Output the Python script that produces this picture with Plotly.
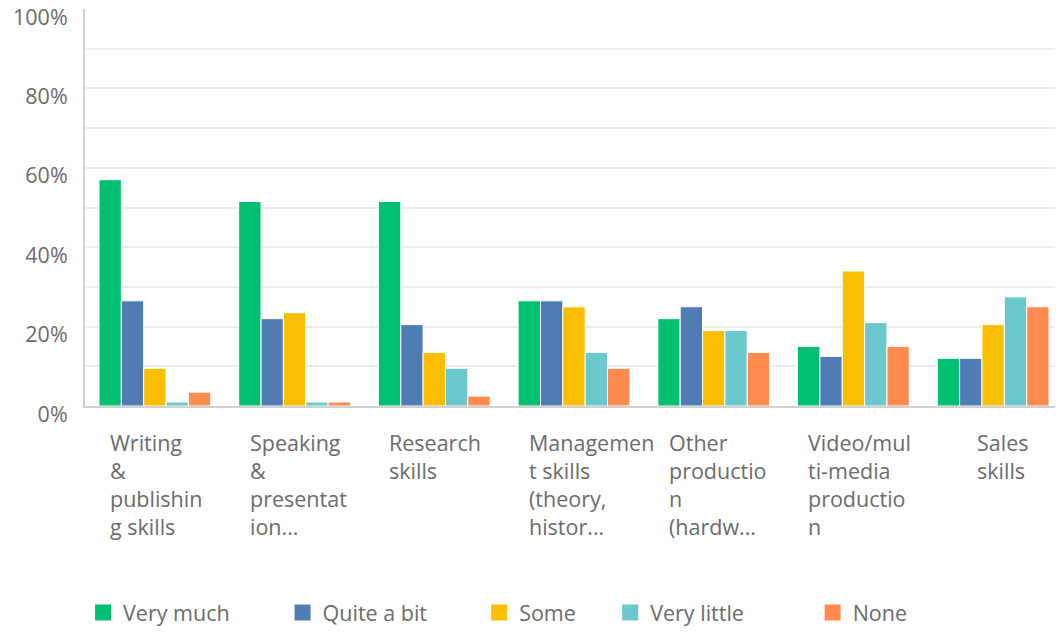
import plotly.graph_objects as go

# categories as shown (wrapped like the original survey chart)
categories = ['Writing & publishing skills', 'Speaking & presentation...', 'Research skills',
              'Management skills (theory, histor...', 'Other production (hardw...',
              'Video/multi-media production', 'Sales skills']
cat_labels = ['Writing<br>&<br>publishin<br>g skills',
              'Speaking<br>&<br>presentat<br>ion...',
              'Research<br>skills',
              'Managemen<br>t skills<br>(theory,<br>histor...',
              'Other<br>productio<br>n<br>(hardw...',
              'Video/mul<br>ti-media<br>productio<br>n',
              'Sales<br>skills']

series_names = ['Very much', 'Quite a bit', 'Some', 'Very little', 'None']
very_much = [57.0, 51.5, 51.5, 26.5, 22.0, 15.0, 12.0]
quite_a_bit = [26.5, 22.0, 20.5, 26.5, 25.0, 12.5, 12.0]
some = [9.5, 23.5, 13.5, 25.0, 19.0, 34.0, 20.5]
very_little = [1.0, 1.0, 9.5, 13.5, 19.0, 21.0, 27.5]
none = [3.5, 1.0, 2.5, 9.5, 13.5, 15.0, 25.0]
values = [very_much, quite_a_bit, some, very_little, none]

colors = ['#00BF6F', '#507CB6', '#F9BE00', '#6BC8CD', '#FF8B4F']

y_ticks = list(range(0, 101, 10))
y_text = [f'{v}%' if v % 20 == 0 else '' for v in y_ticks]

font = 'Open Sans'
grey = '#6b6b6b'
fsize = 21.5

# page body has an 8px margin, so the figure is a bit smaller and shifted
legend_x = [-0.002, 0.202, 0.403, 0.537, 0.744]

fig = go.Figure()
for name, vals, col in zip(series_names, values, colors):
    fig.add_trace(go.Bar(x=categories, y=vals, name=name, showlegend=False,
                         marker=dict(color=col, line=dict(color='white', width=1))))

# bigger square legend keys, one legend box per entry to match the spacing
legends = {}
for k, (name, col) in enumerate(zip(series_names, colors)):
    key = 'legend' if k == 0 else f'legend{k + 1}'
    fig.add_trace(go.Scatter(x=[None], y=[None], mode='markers', name=name, legend=key,
                             marker=dict(symbol='square', size=16, color=col)))
    legends[key] = dict(orientation='h', x=legend_x[k], xanchor='left', y=-0.47,
                        yanchor='top', itemsizing='trace', bgcolor='rgba(0,0,0,0)',
                        font=dict(family=font, size=fsize, color=grey))

# left-aligned wrapped category labels under each group
for i, lab in enumerate(cat_labels):
    fig.add_annotation(x=i, y=0, xref='x', yref='paper', text=lab, showarrow=False,
                       xanchor='left', yanchor='top', align='left',
                       xshift=-47 if i < len(cat_labels) - 1 else -18, yshift=-20,
                       font=dict(family=font, size=fsize, color=grey))

fig.update_layout(
    width=1055, height=625,
    margin=dict(l=77, r=0, t=1, b=227),
    plot_bgcolor='white', paper_bgcolor='white',
    barmode='group', bargap=0.2, bargroupgap=0,
    font=dict(family=font, size=fsize, color=grey),
    showlegend=True,
    xaxis=dict(showticklabels=False, showline=True, linecolor='#d0d0d0', linewidth=2,
               showgrid=False, ticks='', automargin=False),
    yaxis=dict(range=[0, 100.01], tickvals=y_ticks, ticktext=y_text, showline=True,
               linecolor='#d0d0d0', linewidth=2, gridcolor='#ececec', gridwidth=2,
               zeroline=False, ticks='outside', ticklen=11, tickcolor='rgba(0,0,0,0)',
               ticklabelshift=8, ticklabeloverflow='allow', automargin=False,
               tickfont=dict(family=font, size=fsize, color=grey)),
    **legends,
)

fig.write_html('out.html')
